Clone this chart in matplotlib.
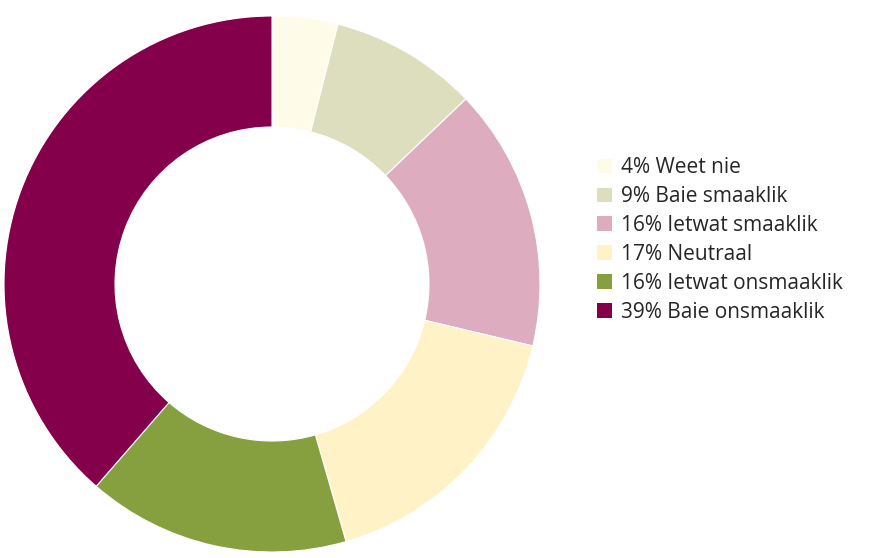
import matplotlib.pyplot as plt
from matplotlib.patches import Patch

plt.rcParams['font.family'] = ['Open Sans', 'DejaVu Sans']

# responses and their shares (%)
categories = ['Weet nie', 'Baie smaaklik', 'Ietwat smaaklik', 'Neutraal',
              'Ietwat onsmaaklik', 'Baie onsmaaklik']
percent = [4, 9, 16, 17, 16, 39]
colors = ['#FFFBE9', '#DCDEBE', '#DDADBF', '#FEF2C6', '#86A040', '#85004B']

W, H = 873, 558
fig = plt.figure(figsize=(W / 100, H / 100), dpi=100)

# place the donut in pixel terms
cx, cy, r = 272, 284, 268
ax = fig.add_axes([(cx - r) / W, (H - cy - r) / H, 2 * r / W, 2 * r / H])
inner = 157
ax.pie(percent, colors=colors, startangle=90, counterclock=False, radius=1,
       wedgeprops=dict(width=(r - inner) / r, edgecolor='white', linewidth=0.8))
ax.set_xlim(-1, 1)
ax.set_ylim(-1, 1)
ax.set_aspect('equal')
ax.axis('off')

handles = [Patch(facecolor=c, edgecolor='none') for c in colors]
labels = [f'{p}% {c}' for p, c in zip(percent, categories)]
fig.legend(handles, labels, loc='center left', bbox_to_anchor=(597 / W, 1 - 240 / H),
           frameon=False, fontsize=15, handlelength=0.7, handleheight=0.7,
           handletextpad=0.45, labelspacing=0.38, borderaxespad=0, borderpad=0,
           labelcolor='#262626')

fig.savefig('out.png', dpi=100)
